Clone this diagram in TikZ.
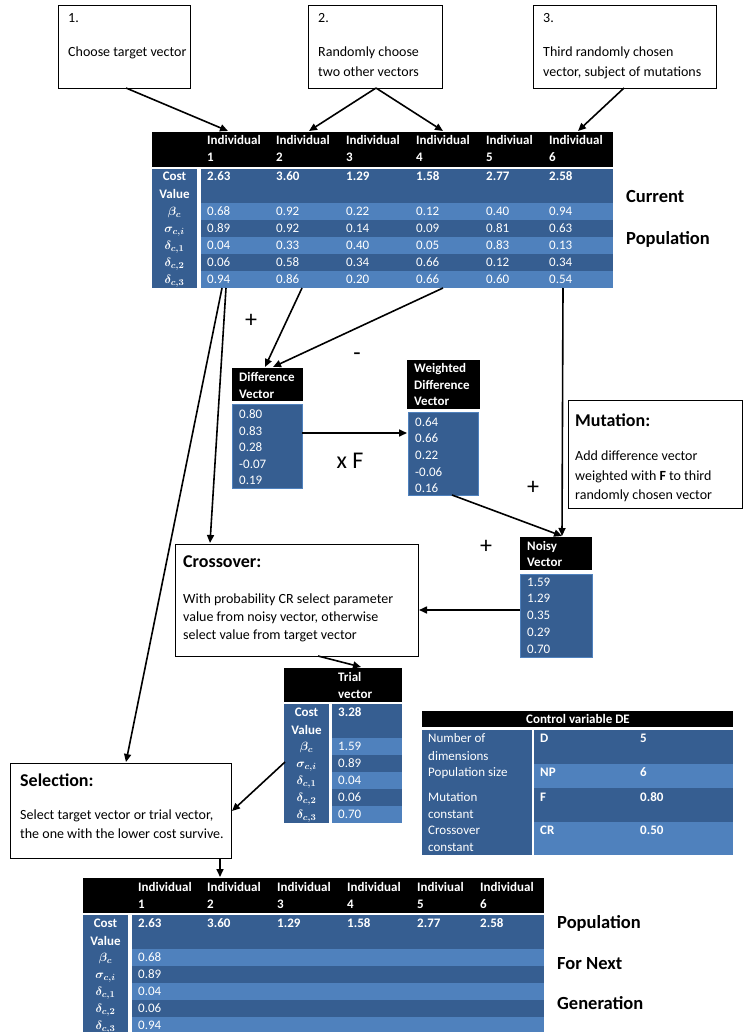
\documentclass[tikz,border=0pt]{standalone}
\usepackage{fontspec}
\setmainfont{Carlito}
\usepackage{amsmath,bm}
\usetikzlibrary{arrows.meta,calc}
\definecolor{dk}{RGB}{54,94,145}
\definecolor{lt}{RGB}{79,129,189}
\tikzset{
 arr/.style={line width=1.6pt,-{Triangle[length=8pt,width=7pt]}},
 box/.style={draw,line width=1.1pt,fill=white,inner sep=0,anchor=north west},
 cell/.style={inner sep=0,anchor=north west},
 txt/.style={inner sep=0,anchor=base west,font=\fontsize{14}{16}\selectfont},
 hw/.style={inner sep=0,anchor=base west,text=white,font=\fontsize{13}{15}\selectfont\bfseries},
 vw/.style={inner sep=0,anchor=base west,text=white,font=\fontsize{13}{15}\selectfont},
 lw/.style={inner sep=0,anchor=base,text=white,font=\fontsize{13}{15}\selectfont\bfseries\boldmath},
 ttl/.style={inner sep=0,anchor=base west,font=\fontsize{18}{20}\selectfont\bfseries},
 big/.style={inner sep=0,anchor=base west,font=\fontsize{18.5}{20}\selectfont\bfseries},
 sym/.style={inner sep=0,font=\fontsize{24}{26}\selectfont},
}
\begin{document}
\begin{tikzpicture}[x=1pt,y=-1pt]
\useasboundingbox (0,0) rectangle (745,1032);

% ---------- top boxes ----------
\node[box,minimum width=132pt,minimum height=83pt] (b1) at (58,5) {};
\node[box,minimum width=134pt,minimum height=83pt] (b2) at (308,5) {};
\node[box,minimum width=183pt,minimum height=83pt] (b3) at (533,5) {};
\node[txt] (b1a) at (68,22.5) {1.};
\node[txt] (b1b) at (68,56.5) {Choose target vector};
\node[txt] (b2a) at (318,22.5) {2.};
\node[txt] (b2b) at (318,56.5) {Randomly choose};
\node[txt] (b2c) at (318,76.5) {two other vectors};
\node[txt] (b3a) at (543,22.5) {3.};
\node[txt] (b3b) at (543,56.5) {Third randomly chosen};
\node[txt] (b3c) at (543,76.5) {vector, subject of mutations};

% ---------- current population ----------
\begin{scope}[shift={(152,132)}]
 \node[cell,fill=black,minimum width=461pt,minimum height=35pt] (cph) at (0,0) {};
 \node[cell,fill=dk,minimum width=45pt,minimum height=119pt] (cpl) at (0,37) {};
 \node[cell,fill=dk,minimum width=412pt,minimum height=119pt] (cpb) at (49,37) {};
 \fill[lt] (49,71) rectangle (461,88);
 \fill[lt] (49,105) rectangle (461,122);
 \fill[lt] (49,139) rectangle (461,156);
 \node[lw] (cpcost) at (22.5,49) {Cost};
 \node[lw] (cpval) at (22.5,67) {Value};
 \node[lw] (cpg1) at (22.5,83.5) {$\bm{\beta_c}$};
 \node[lw] (cpg2) at (22.5,100.5) {$\bm{\sigma_{c,i}}$};
 \node[lw] (cpg3) at (22.5,117.5) {$\bm{\delta_{c,1}}$};
 \node[lw] (cpg4) at (22.5,134.5) {$\bm{\delta_{c,2}}$};
 \node[lw] (cpg5) at (22.5,151.5) {$\bm{\delta_{c,3}}$};
 \foreach \xx/\hn/\va/\vb/\vc/\vd/\ve/\vf [count=\i] in {
   55/Individual/2.63/0.68/0.89/0.04/0.06/0.94,
   124/Individual/3.60/0.92/0.92/0.33/0.58/0.86,
   194/Individual/1.29/0.22/0.14/0.40/0.34/0.20,
   264/Individual/1.58/0.12/0.09/0.05/0.66/0.66,
   334/Indiviual/2.77/0.40/0.81/0.83/0.12/0.60,
   397/Individual/2.58/0.94/0.63/0.13/0.34/0.54} {
   \node[hw] (cphi\i) at (\xx,13) {\hn};
   \node[hw] (cphn\i) at (\xx,30) {\i};
   \node[hw] (cpa\i) at (\xx,49) {\va};
   \node[vw] (cpb\i) at (\xx,83.5) {\vb};
   \node[vw] (cpc\i) at (\xx,100.5) {\vc};
   \node[vw] (cpd\i) at (\xx,117.5) {\vd};
   \node[vw] (cpe\i) at (\xx,134.5) {\ve};
   \node[vw] (cpf\i) at (\xx,151.5) {\vf};
 }
\end{scope}
\node[big] (cur1) at (626,203) {Current};
\node[big] (cur2) at (626,244) {Population};

% ---------- difference vector ----------
\node[cell,fill=black,minimum width=71pt,minimum height=33pt] (dvh) at (232,368) {};
\node[cell,fill=dk,draw=lt,minimum width=70pt,minimum height=84pt] (dvb) at (232,404) {};
\node[hw] (dvh1) at (239,381) {Difference};
\node[hw] (dvh2) at (239,398) {Vector};
\foreach \v/\yy [count=\i] in {0.80/418,0.83/435,0.28/451.5,-0.07/468,0.19/484.5}
  \node[vw] (dvv\i) at (239,\yy) {\v};

% ---------- weighted difference vector ----------
\node[cell,fill=black,minimum width=73pt,minimum height=49pt] (wvh) at (407,360) {};
\node[cell,fill=dk,draw=lt,minimum width=70pt,minimum height=83pt] (wvb) at (408,412) {};
\node[hw] (wvh1) at (414,372.5) {Weighted};
\node[hw] (wvh2) at (414,389) {Difference};
\node[hw] (wvh3) at (414,405.5) {Vector};
\foreach \v/\yy [count=\i] in {0.64/426,0.66/442.5,0.22/459,-0.06/476,0.16/492.5}
  \node[vw] (wvv\i) at (415,\yy) {\v};

% ---------- noisy vector ----------
\node[cell,fill=black,minimum width=72pt,minimum height=33pt] (nvh) at (520,537) {};
\node[cell,fill=dk,draw=lt,minimum width=72pt,minimum height=83pt] (nvb) at (520,574) {};
\node[hw] (nvh1) at (527,550.5) {Noisy};
\node[hw] (nvh2) at (527,566.5) {Vector};
\foreach \v/\yy [count=\i] in {1.59/586.5,1.29/602.5,0.35/619.5,0.29/636,0.70/653}
  \node[vw] (nvv\i) at (527,\yy) {\v};

% ---------- mutation box ----------
\node[box,minimum width=174pt,minimum height=108pt] (mut) at (568,400) {};
\node[ttl] (mut0) at (575,426) {Mutation:};
\node[txt] (mut1) at (575,460) {Add difference vector};
\node[txt] (mut2) at (575,480) {weighted with \textbf{F} to third};
\node[txt] (mut3) at (575,499) {randomly chosen vector};

% ---------- crossover box ----------
\node[box,minimum width=243pt,minimum height=112pt] (cro) at (175,544) {};
\node[ttl] (cro0) at (183,567) {Crossover:};
\node[txt] (cro1) at (183,603) {With probability CR select parameter};
\node[txt] (cro2) at (183,621) {value from noisy vector, otherwise};
\node[txt] (cro3) at (183,639) {select value from target vector};

% ---------- trial vector ----------
\node[cell,fill=black,minimum width=118pt,minimum height=34pt] (tvh) at (284,668) {};
\node[cell,fill=dk,minimum width=45pt,minimum height=119pt] (tvl) at (284,704) {};
\node[cell,fill=dk,minimum width=70pt,minimum height=119pt] (tvb) at (332,704) {};
\fill[lt] (332,738) rectangle (402,755);
\fill[lt] (332,772) rectangle (402,789);
\fill[lt] (332,806) rectangle (402,823);
\node[hw] (tvh1) at (338,681.5) {Trial};
\node[hw] (tvh2) at (338,698) {vector};
\node[lw] (tvcost) at (306.5,716) {Cost};
\node[lw] (tvval) at (306.5,734) {Value};
\node[lw] (tvg1) at (306.5,750.5) {$\bm{\beta_c}$};
\node[lw] (tvg2) at (306.5,767.5) {$\bm{\sigma_{c,i}}$};
\node[lw] (tvg3) at (306.5,784.5) {$\bm{\delta_{c,1}}$};
\node[lw] (tvg4) at (306.5,801.5) {$\bm{\delta_{c,2}}$};
\node[lw] (tvg5) at (306.5,818.5) {$\bm{\delta_{c,3}}$};
\node[hw] (tvv0) at (338,716) {3.28};
\foreach \v/\yy [count=\i] in {1.59/750.5,0.89/767.5,0.04/784.5,0.06/801.5,0.70/818.5}
  \node[vw] (tvv\i) at (338,\yy) {\v};

% ---------- control variable table ----------
\node[cell,fill=black,minimum width=311pt,minimum height=16pt] (cvh) at (422,711) {};
\node[inner sep=0,text=white,font=\fontsize{13}{15}\selectfont\bfseries] (cvt) at (578,719) {Control variable DE};
\node[cell,fill=dk,minimum width=110pt,minimum height=125pt] (cvl) at (422,730) {};
\node[cell,fill=dk,minimum width=199pt,minimum height=125pt] (cvb) at (534,730) {};
\fill[lt] (534,764) rectangle (733,788);
\fill[lt] (534,822) rectangle (733,855);
\node[vw] (cvl1) at (428,742) {Number of};
\node[vw] (cvl2) at (428,760) {dimensions};
\node[vw] (cvl3) at (428,776.5) {Population size};
\node[vw] (cvl4) at (428,801.5) {Mutation};
\node[vw] (cvl5) at (428,818.5) {constant};
\node[vw] (cvl6) at (428,834.5) {Crossover};
\node[vw] (cvl7) at (428,851) {constant};
\foreach \sa/\sb/\yy [count=\i] in {D/5/742,NP/6/776.5,F/0.80/801.5,CR/0.50/834.5} {
  \node[hw] (cvs\i) at (540,\yy) {\sa};
  \node[hw] (cvn\i) at (640,\yy) {\sb};
}

% ---------- selection box ----------
\node[box,minimum width=221pt,minimum height=95pt] (sel) at (10,763) {};
\node[ttl] (sel0) at (20,786) {Selection:};
\node[txt] (sel1) at (20,819) {Select target vector or trial vector,};
\node[txt] (sel2) at (20,838) {the one with the lower cost survive.};

% ---------- next population ----------
\begin{scope}[shift={(83,878)}]
 \node[cell,fill=black,minimum width=461pt,minimum height=35pt] (nph) at (0,0) {};
 \node[cell,fill=dk,minimum width=45pt,minimum height=119pt] (npl) at (0,37) {};
 \node[cell,fill=dk,minimum width=412pt,minimum height=119pt] (npb) at (49,37) {};
 \fill[lt] (49,71) rectangle (461,88);
 \fill[lt] (49,105) rectangle (461,122);
 \fill[lt] (49,139) rectangle (461,156);
 \node[lw] (npcost) at (22.5,49) {Cost};
 \node[lw] (npval) at (22.5,67) {Value};
 \node[lw] (npg1) at (22.5,83.5) {$\bm{\beta_c}$};
 \node[lw] (npg2) at (22.5,100.5) {$\bm{\sigma_{c,i}}$};
 \node[lw] (npg3) at (22.5,117.5) {$\bm{\delta_{c,1}}$};
 \node[lw] (npg4) at (22.5,134.5) {$\bm{\delta_{c,2}}$};
 \node[lw] (npg5) at (22.5,151.5) {$\bm{\delta_{c,3}}$};
 \foreach \xx/\hn/\va [count=\i] in {
   55/Individual/2.63, 124/Individual/3.60, 194/Individual/1.29,
   264/Individual/1.58, 334/Indiviual/2.77, 397/Individual/2.58} {
   \node[hw] (nphi\i) at (\xx,13) {\hn};
   \node[hw] (nphn\i) at (\xx,30) {\i};
   \node[hw] (npa\i) at (\xx,49) {\va};
 }
 \foreach \v/\yy [count=\i] in {0.68/83.5,0.89/100.5,0.04/117.5,0.06/134.5,0.94/151.5}
   \node[vw] (npv\i) at (55,\yy) {\v};
\end{scope}
\node[big] (nx1) at (557,928) {Population};
\node[big] (nx2) at (557,969) {For Next};
\node[big] (nx3) at (557,1009) {Generation};

% ---------- signs ----------
\node[sym] (p1) at (251,321) {+};
\node[sym] (m1) at (357,357) {-};
\node[sym] (xf) at (350,461) {x F};
\node[sym] (p2) at (533,488) {+};
\node[sym] (p3) at (486,547) {+};

% ---------- connector end points ----------
\coordinate (s1) at (126,88);
\coordinate (e1) at (228,131);
\coordinate (s2) at (376,88);
\coordinate (e2) at (309,131);
\coordinate (e3) at (443,131);
\coordinate (s4) at (624,88);
\coordinate (e4) at (578,131);
\coordinate (c2) at (302,288);
\coordinate (c4) at (443,288);
\coordinate (c1a) at (226,288);
\coordinate (c1b) at (222,288);
\coordinate (c6) at (563,288);
\coordinate (dvt1) at (265,367);
\coordinate (dvt2) at (273,367);
\coordinate (crt) at (210,543);
\coordinate (selt) at (126,762);
\coordinate (nvt) at (562,536);
\coordinate (wvs) at (452,495);
\coordinate (dvr) at (302,433);
\coordinate (wvl) at (407,433);
\coordinate (nvl) at (520,610);
\coordinate (crr) at (419,610);
\coordinate (crb) at (318,656);
\coordinate (tvt) at (361,667);
\coordinate (tvs) at (285,762);
\coordinate (selr) at (232,811);
\coordinate (selb) at (220,858);
\coordinate (npt) at (220,877);

\draw[arr] (s1) -- (e1);
\draw[arr] (s2) -- (e2);
\draw[arr] (s2) -- (e3);
\draw[arr] (s4) -- (e4);
\draw[arr] (c2) -- (dvt1);
\draw[arr] (c4) -- (dvt2);
\draw[arr] (c1a) -- (crt);
\draw[arr] (c1b) -- (selt);
\draw[arr] (c6) -- (nvt);
\draw[arr] (wvs) -- (nvt);
\draw[arr] (dvr) -- (wvl);
\draw[arr] (nvl) -- (crr);
\draw[arr] (crb) -- (tvt);
\draw[arr] (tvs) -- (selr);
\draw[arr] (selb) -- (npt);
\end{tikzpicture}
\end{document}
